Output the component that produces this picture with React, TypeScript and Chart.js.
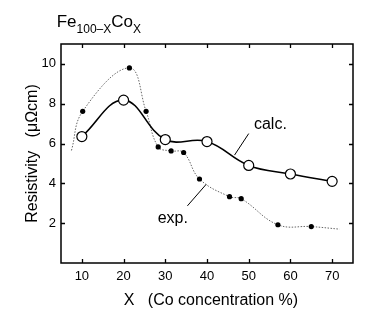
import React, { useEffect, useRef } from "react";
import { Chart, registerables } from "chart.js";
Chart.register(...registerables);

// Calculated resistivity (open circles, solid line)
const calcX = [10, 20, 30, 40, 50, 60, 70];
const calcY = [6.35, 8.18, 6.2, 6.1, 4.9, 4.47, 4.1];
// Experimental resistivity (filled dots, dotted line)
const expX = [10.2, 21.4, 25.4, 28.3, 31.4, 34.4, 38.2, 45.4, 48.2, 57.0, 65.0];
const expY = [7.62, 9.8, 7.62, 5.83, 5.63, 5.55, 4.22, 3.33, 3.23, 1.92, 1.83];
// Ends of the dotted guide curve (no marker)
const expCurveStartX = 7.5;
const expCurveStartY = 5.65;
const expCurveEndX = 71.8;
const expCurveEndY = 1.7;

const xTicks = [10, 20, 30, 40, 50, 60, 70];
const yTicks = [2, 4, 6, 8, 10];

const FONT = "'Liberation Sans', Arial, Helvetica, sans-serif";

const decorPlugin = {
  id: "decor",
  afterDraw(chart: any) {
    const { ctx, chartArea: a, scales } = chart;
    const xs = scales.x;
    const ys = scales.y;
    ctx.save();
    // frame
    ctx.strokeStyle = "#000";
    ctx.lineWidth = 1.5;
    ctx.strokeRect(a.left, a.top, a.right - a.left, a.bottom - a.top);
    // inward tick marks
    ctx.lineWidth = 1.3;
    const tl = 4;
    ctx.beginPath();
    xTicks.forEach((v) => {
      const px = Math.round(xs.getPixelForValue(v)) + 0.5;
      ctx.moveTo(px, a.bottom);
      ctx.lineTo(px, a.bottom - tl);
      ctx.moveTo(px, a.top);
      ctx.lineTo(px, a.top + tl);
    });
    yTicks.forEach((v) => {
      const py = Math.round(ys.getPixelForValue(v)) + 0.5;
      ctx.moveTo(a.left, py);
      ctx.lineTo(a.left + tl, py);
      ctx.moveTo(a.right, py);
      ctx.lineTo(a.right - tl, py);
    });
    ctx.stroke();

    // annotations
    ctx.fillStyle = "#000";
    ctx.font = `16px ${FONT}`;
    ctx.textAlign = "center";
    ctx.textBaseline = "middle";
    ctx.fillText("calc.", xs.getPixelForValue(55.2), ys.getPixelForValue(6.97));
    ctx.fillText("exp.", xs.getPixelForValue(31.8), ys.getPixelForValue(2.21));
    ctx.lineWidth = 1;
    ctx.beginPath();
    ctx.moveTo(xs.getPixelForValue(50.0), ys.getPixelForValue(6.5));
    ctx.lineTo(xs.getPixelForValue(46.6), ys.getPixelForValue(5.42));
    ctx.moveTo(xs.getPixelForValue(35.3), ys.getPixelForValue(2.87));
    ctx.lineTo(xs.getPixelForValue(39.8), ys.getPixelForValue(3.95));
    ctx.stroke();

    // axis titles
    ctx.font = `16px ${FONT}`;
    ctx.textAlign = "center";
    ctx.textBaseline = "alphabetic";
    ctx.fillText("X   (Co concentration %)", (a.left + a.right) / 2 + 4, 304.5);
    ctx.save();
    ctx.translate(36.5, (a.top + a.bottom) / 2);
    ctx.rotate(-Math.PI / 2);
    ctx.fillText("Resistivity   (\u03bc\u03a9cm)", 0, 0);
    ctx.restore();

    // chart title Fe100-XCoX
    ctx.textAlign = "left";
    let x = 56.7;
    const base = 27.3;
    const sub = 33.3;
    const parts: [string, number, number][] = [
      ["Fe", 17, base],
      ["100\u2013X", 12, sub],
      ["Co", 17, base],
      ["X", 12, sub],
    ];
    parts.forEach(([t, s, b]) => {
      ctx.font = `${s}px ${FONT}`;
      ctx.fillText(t, x, b);
      x += ctx.measureText(t).width;
    });
    ctx.restore();
  },
};

export default function App() {
  const ref = useRef<HTMLCanvasElement>(null);
  useEffect(() => {
    if (!ref.current) return;
    const calcData = calcX.map((x, i) => ({ x, y: calcY[i] }));
    const expPts = expX.map((x, i) => ({ x, y: expY[i] }));
    const expCurve = [
      { x: expCurveStartX, y: expCurveStartY },
      ...expPts,
      { x: expCurveEndX, y: expCurveEndY },
    ];
    const chart = new Chart(ref.current, {
      type: "scatter",
      data: {
        datasets: [
          {
            label: "calc.",
            data: calcData,
            showLine: true,
            borderColor: "#000",
            borderWidth: 1.6,
            tension: 0.4,
            pointRadius: 5,
            pointBorderWidth: 1.2,
            pointBackgroundColor: "#fff",
            pointBorderColor: "#000",
            order: 0,
          },
          {
            label: "exp.",
            data: expCurve,
            showLine: true,
            borderColor: "#666",
            borderWidth: 1,
            borderDash: [1.5, 1.5],
            tension: 0.4,
            pointRadius: (c: any) =>
              c.dataIndex === 0 || c.dataIndex === expCurve.length - 1 ? 0 : 2.6,
            pointBorderWidth: 0,
            pointBackgroundColor: "#000",
            pointBorderColor: "#000",
            order: 1,
          },
        ],
      },
      options: {
        animation: false,
        responsive: false,
        devicePixelRatio: 1,
        layout: { padding: { top: 44, right: 29, left: 0, bottom: 0 } },
        plugins: { legend: { display: false }, tooltip: { enabled: false } },
        scales: {
          x: {
            type: "linear",
            min: 5,
            max: 75,
            afterBuildTicks: (s: any) => {
              s.ticks = xTicks.map((v) => ({ value: v }));
            },
            afterFit: (s: any) => {
              s.height = 54;
            },
            grid: { display: false, drawTicks: false },
            border: { display: false },
            ticks: { font: { family: FONT, size: 13 }, color: "#000", padding: 6, maxRotation: 0 },
          },
          y: {
            type: "linear",
            min: 0,
            max: 11,
            afterBuildTicks: (s: any) => {
              s.ticks = yTicks.map((v) => ({ value: v }));
            },
            afterFit: (s: any) => {
              s.width = 61;
            },
            grid: { display: false, drawTicks: false },
            border: { display: false },
            ticks: { font: { family: FONT, size: 13 }, color: "#000", padding: 5 },
          },
        },
      },
      plugins: [decorPlugin],
    } as any);
    return () => chart.destroy();
  }, []);
  return (
    <div style={{ position: "fixed", left: 0, top: 0, width: 382, height: 317, background: "#fff" }}>
      <canvas ref={ref} width={382} height={317} style={{ width: 382, height: 317, display: "block" }} />
    </div>
  );
}
